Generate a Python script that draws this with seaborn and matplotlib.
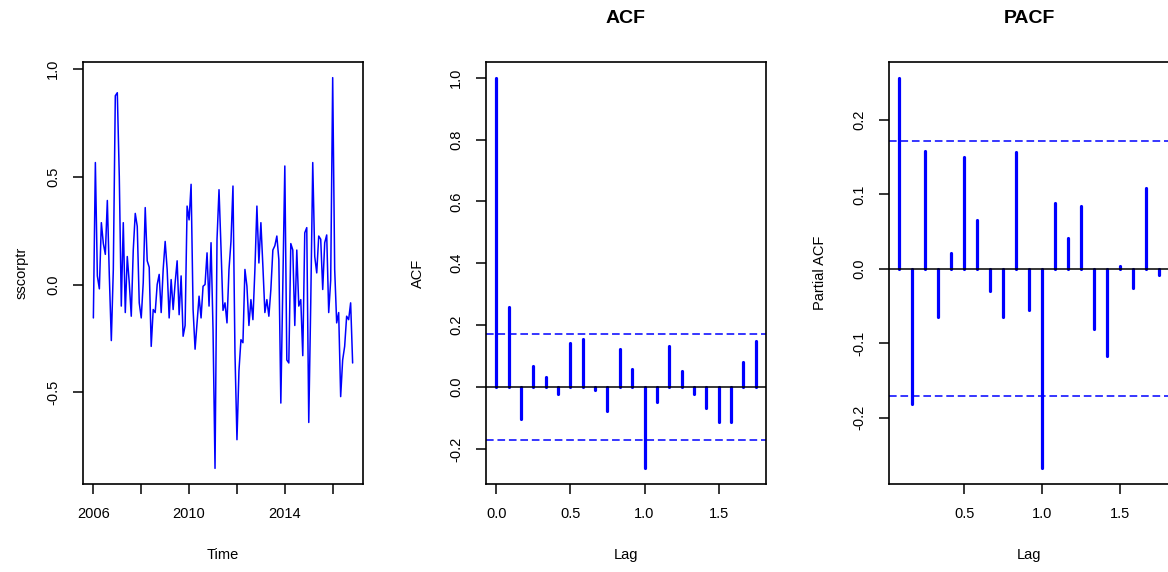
import numpy as np
import pandas as pd
import matplotlib
matplotlib.use('Agg')
import matplotlib.pyplot as plt
import seaborn as sns

# monthly series, Jan 2006 - Nov 2016
sscorptr = [
    -0.155, 0.566, 0.04, -0.02, 0.287, 0.19, 0.14, 0.39, 0.04, -0.26, 0.07, 0.876,
    0.89, 0.50, -0.10, 0.287, -0.13, 0.13, 0.008, -0.147, 0.16, 0.33, 0.27, -0.085,
    -0.155, 0.008, 0.357, 0.11, 0.08, -0.287, -0.116, -0.13, 0.0, 0.047, -0.13, 0.07,
    0.20, 0.07, -0.155, 0.023, -0.116, 0.008, 0.11, -0.14, 0.04, -0.24, -0.19, 0.364,
    0.30, 0.465, -0.116, -0.30, -0.178, -0.054, -0.155, -0.008, 0.0, 0.147, -0.10, 0.194,
    -0.21, -0.853, 0.21, 0.44, 0.17, -0.12, -0.085, -0.178, 0.07, 0.2, 0.457, -0.318,
    -0.72, -0.40, -0.256, -0.27, 0.07, -0.008, -0.19, -0.07, -0.163, 0.07, 0.364, 0.10,
    0.287, 0.085, -0.13, -0.07, -0.147, -0.023, 0.16, 0.18, 0.225, 0.116, -0.55, 0.008,
    0.55, -0.35, -0.364, 0.19, 0.16, -0.19, 0.16, -0.1, -0.07, -0.33, 0.24, 0.264,
    -0.64, -0.085, 0.566, 0.13, 0.054, 0.225, 0.21, -0.023, 0.194, 0.23, -0.13, 0.02,
    0.96, 0.07, -0.178, -0.13, -0.52, -0.35, -0.287, -0.147, -0.163, -0.085, -0.364,
]
start_year = 2006

acf_vals = [
    1.0, 0.259, -0.102, 0.068, 0.033, -0.022, 0.143, 0.156, -0.010, -0.078, 0.124,
    0.057, -0.263, -0.048, 0.133, 0.052, -0.024, -0.069, -0.113, -0.112, 0.081, 0.150,
]
pacf_vals = [
    0.257, -0.181, 0.158, -0.064, 0.022, 0.150, 0.066, -0.030, -0.065, 0.157, -0.055,
    -0.268, 0.089, 0.041, 0.085, -0.081, -0.117, 0.004, -0.025, 0.109, -0.008,
]

time_ticks = [2006, 2008, 2010, 2012, 2014, 2016]
time_ticklabels = ['2006', '', '2010', '', '2014', '']
ts_yticks = [-0.5, 0.0, 0.5, 1.0]
acf_xticks = [0.0, 0.5, 1.0, 1.5]
acf_yticks = [-0.2, 0.0, 0.2, 0.4, 0.6, 0.8, 1.0]
pacf_xticks = [0.5, 1.0, 1.5]
pacf_yticks = [-0.2, -0.1, 0.0, 0.1, 0.2]

BLUE = '#0000FF'


def r_limits(lo, hi):
    # R pads the data range by 4% on each side
    pad = 0.04 * (hi - lo)
    return lo - pad, hi + pad


def style_axes(ax, xticks, xlabels, yticks, ylabels):
    ax.set_xticks(xticks)
    ax.set_xticklabels(xlabels)
    ax.set_yticks(yticks)
    ax.set_yticklabels(ylabels)
    for s in ax.spines.values():
        s.set_visible(True)
        s.set_color('black')
        s.set_linewidth(1.2)
    ax.tick_params(direction='out', length=7.5, width=1.1, color='black',
                   labelcolor='black', labelsize=10.5, pad=9, bottom=True, left=True)
    plt.setp(ax.get_yticklabels(), rotation=90, va='center')
    ax.grid(False)


def draw_spikes(ax, lags, vals, ci):
    sticks = ax.vlines(lags, 0, vals, color=BLUE, linewidth=2.3)
    sticks.set_capstyle('round')
    ax.axhline(0, color='black', linewidth=1.1)
    for c in (ci, -ci):
        ax.axhline(c, color=BLUE, linewidth=1.1, linestyle=(0, (5, 2.5)))
    ax.set_xlim(*r_limits(lags.min(), lags.max()))
    ax.set_ylim(*r_limits(min(min(vals), -ci), max(max(vals), ci)))


def main():
    sns.set_theme(style='white')
    plt.rcParams['font.family'] = ['Liberation Sans', 'DejaVu Sans']
    plt.rcParams['text.color'] = 'black'
    plt.rcParams['axes.labelcolor'] = 'black'

    n = len(sscorptr)
    ts = pd.DataFrame({'Time': start_year + np.arange(n) / 12.0, 'sscorptr': sscorptr})
    ci = 1.96 / np.sqrt(n)

    fig = plt.figure(figsize=(11.68, 5.72), dpi=100)
    bottom, height = 88 / 572, 422 / 572
    ax1 = fig.add_axes([83 / 1168, bottom, 280 / 1168, height])
    ax2 = fig.add_axes([486 / 1168, bottom, 280 / 1168, height])
    ax3 = fig.add_axes([889 / 1168, bottom, 280 / 1168, height])

    # time series
    sns.lineplot(data=ts, x='Time', y='sscorptr', ax=ax1, color=BLUE, linewidth=1.1)
    ax1.set_xlim(*r_limits(ts['Time'].min(), ts['Time'].max()))
    ax1.set_ylim(*r_limits(min(sscorptr), max(sscorptr)))
    style_axes(ax1, time_ticks, time_ticklabels, ts_yticks, [f'{v:.1f}' for v in ts_yticks])

    # ACF
    acf_lag = np.arange(len(acf_vals)) / 12.0
    draw_spikes(ax2, acf_lag, acf_vals, ci)
    style_axes(ax2, acf_xticks, [f'{v:.1f}' for v in acf_xticks],
               acf_yticks, [f'{v:.1f}' for v in acf_yticks])
    ax2.set_title('ACF', fontsize=14, fontweight='bold', pad=28, color='black')

    # PACF
    pacf_lag = np.arange(1, len(pacf_vals) + 1) / 12.0
    draw_spikes(ax3, pacf_lag, pacf_vals, ci)
    style_axes(ax3, pacf_xticks, [f'{v:.1f}' for v in pacf_xticks],
               pacf_yticks, [f'{v:.1f}' for v in pacf_yticks])
    ax3.set_title('PACF', fontsize=14, fontweight='bold', pad=28, color='black')

    # axis labels, placed like R's default margins
    for ax, xl, yl, yx in [(ax1, 'Time', 'sscorptr', -0.195),
                           (ax2, 'Lag', 'ACF', -0.218),
                           (ax3, 'Lag', 'Partial ACF', -0.222)]:
        ax.set_xlabel(xl, fontsize=10.5)
        ax.set_ylabel(yl, fontsize=10.5)
        ax.xaxis.set_label_coords(0.5, -0.152)
        ax.yaxis.set_label_coords(yx, 0.5)

    fig.savefig('out.png', dpi=100)
    plt.close(fig)


if __name__ == "__main__":
    main()
